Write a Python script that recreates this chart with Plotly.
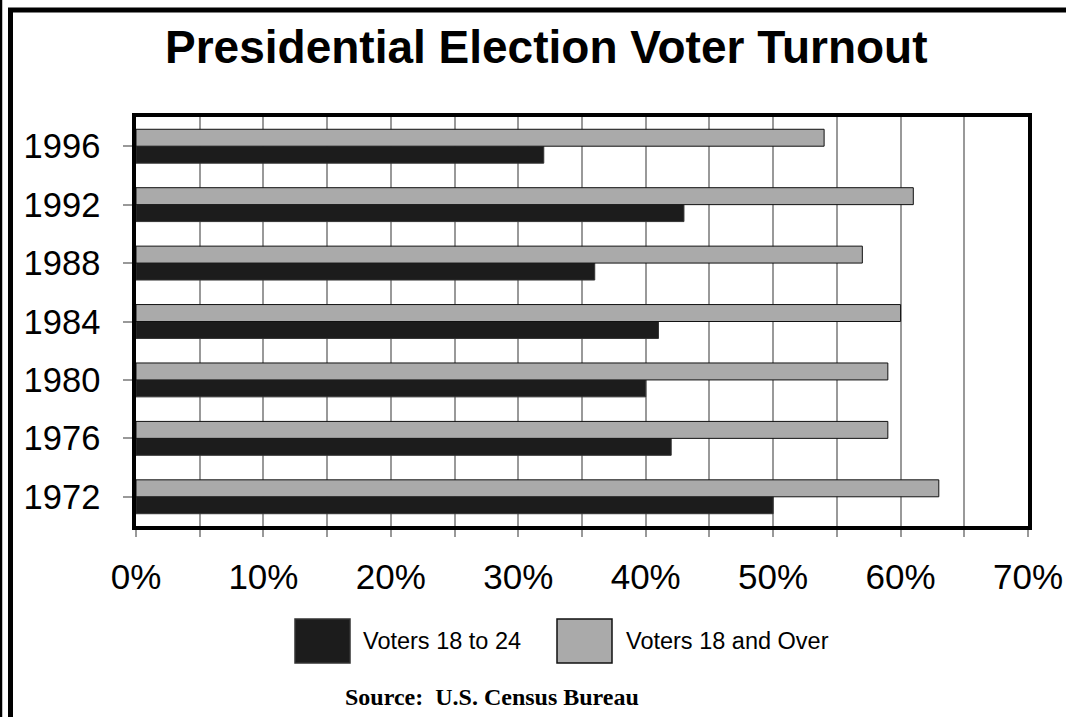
import plotly.graph_objects as go

# ---- data ----
years = ["1972", "1976", "1980", "1984", "1988", "1992", "1996"]
voters_18_24 = [50, 42, 40, 41, 36, 43, 32]
voters_18_over = [63, 59, 59, 60, 57, 61, 54]
series_names = ["Voters 18 to 24", "Voters 18 and Over"]
x_tick_vals = [0, 5, 10, 15, 20, 25, 30, 35, 40, 45, 50, 55, 60, 65, 70]
x_tick_text = ["0%", "", "10%", "", "20%", "", "30%", "", "40%", "", "50%", "", "60%", "", "70%"]
title_text = "Presidential Election Voter Turnout"
source_text = "Source:  U.S. Census Bureau"

W, H = 1066, 717
BLACK_BAR = "#1c1c1c"
GRAY_BAR = "#aaaaaa"
SANS = "Liberation Sans, Arial, sans-serif"
SERIF = "Liberation Serif, Times New Roman, serif"

def px(x):
    return x / W

def py(y):
    return 1 - y / H

fig = go.Figure()
fig.add_trace(go.Bar(
    y=years, x=voters_18_24, orientation="h", name=series_names[0],
    marker=dict(color=BLACK_BAR, line=dict(color="#333333", width=1)),
    showlegend=False,
))
fig.add_trace(go.Bar(
    y=years, x=voters_18_over, orientation="h", name=series_names[1],
    marker=dict(color=GRAY_BAR, line=dict(color="#111111", width=1)),
    showlegend=False,
))

plot_l, plot_r, plot_t, plot_b = 136, 1028, 117, 526

fig.update_layout(
    template="none",
    width=W, height=H,
    margin=dict(l=0, r=0, t=0, b=0),
    paper_bgcolor="white", plot_bgcolor="white",
    barmode="group", bargap=0.42, bargroupgap=0,
    font=dict(family=SANS, color="black"),
    xaxis=dict(
        domain=[px(plot_l), px(plot_r)],
        range=[0, 70], tickvals=x_tick_vals, ticktext=x_tick_text,
        showgrid=True, gridcolor="#999999", gridwidth=1.5,
        ticks="outside", ticklen=7, tickwidth=1.5, tickcolor="#999999",
        showline=True, linecolor="black", linewidth=3.5, mirror=True,
        tickfont=dict(size=35, family=SANS, color="black"),
        ticklabelstandoff=10,
        zeroline=False, automargin=False, fixedrange=True,
    ),
    yaxis=dict(
        domain=[py(plot_b), py(plot_t)],
        categoryorder="array", categoryarray=years,
        showgrid=False, tickson="boundaries",
        ticks="outside", ticklen=9, tickwidth=1.5, tickcolor="#999999",
        showline=True, linecolor="black", linewidth=3.5, mirror=True,
        tickfont=dict(size=34.5, family=SANS, color="black"),
        ticklabelstandoff=16,
        zeroline=False, automargin=False, fixedrange=True,
    ),
)

shapes = []
# outer frame (cropped at right/bottom)
shapes.append(dict(type="line", xref="paper", yref="paper",
                   x0=px(1), x1=px(1), y0=-0.05, y1=1.05,
                   line=dict(color="black", width=2.5)))
shapes.append(dict(type="rect", xref="paper", yref="paper",
                   x0=px(10.5), x1=1.1, y0=-0.1, y1=py(10),
                   line=dict(color="black", width=5)))
# legend boxes
shapes.append(dict(type="rect", xref="paper", yref="paper",
                   x0=px(295), x1=px(350), y0=py(663), y1=py(619),
                   fillcolor=BLACK_BAR, line=dict(color="#333333", width=1.5)))
shapes.append(dict(type="rect", xref="paper", yref="paper",
                   x0=px(557), x1=px(612), y0=py(663), y1=py(619),
                   fillcolor=GRAY_BAR, line=dict(color="#111111", width=1.5)))

annotations = [
    dict(text=title_text, xref="paper", yref="paper", x=px(546.5), y=py(47),
         xanchor="center", yanchor="middle", showarrow=False,
         font=dict(size=46, family=SANS, color="black", weight="bold")),
    dict(text=series_names[0], xref="paper", yref="paper", x=px(361), y=py(641),
         xanchor="left", yanchor="middle", showarrow=False,
         font=dict(size=23.5, family=SANS, color="black")),
    dict(text=series_names[1], xref="paper", yref="paper", x=px(624), y=py(641),
         xanchor="left", yanchor="middle", showarrow=False,
         font=dict(size=23.5, family=SANS, color="black")),
    dict(text=source_text, xref="paper", yref="paper", x=px(343), y=py(697),
         xanchor="left", yanchor="middle", showarrow=False,
         font=dict(size=24, family=SERIF, color="black", weight="bold")),
]

fig.update_layout(shapes=shapes, annotations=annotations)
fig.write_html("out.html")
